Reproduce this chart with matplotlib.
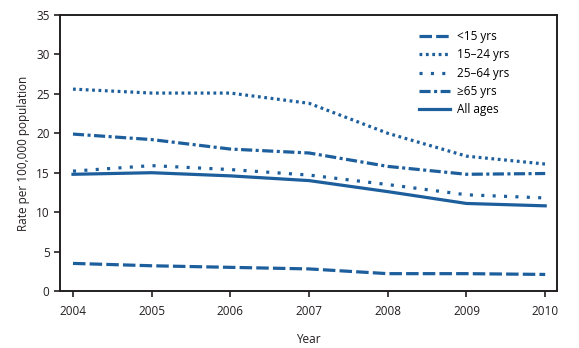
import matplotlib
matplotlib.use("Agg")
import matplotlib.pyplot as plt

plt.rcParams['font.family'] = ['Open Sans', 'DejaVu Sans']
plt.rcParams['lines.scale_dashes'] = False

years = [2004, 2005, 2006, 2007, 2008, 2009, 2010]
under15 = [3.5, 3.2, 3.0, 2.8, 2.2, 2.2, 2.1]
age15_24 = [25.6, 25.1, 25.1, 23.8, 20.0, 17.1, 16.1]
age25_64 = [15.2, 15.9, 15.4, 14.7, 13.5, 12.2, 11.8]
age65 = [19.9, 19.2, 18.0, 17.5, 15.8, 14.8, 14.9]
all_ages = [14.8, 15.0, 14.6, 14.0, 12.6, 11.1, 10.8]

labels = ['<15 yrs', '15–24 yrs', '25–64 yrs', '≥65 yrs', 'All ages']
series = [under15, age15_24, age25_64, age65, all_ages]
styles = [(0, (9, 3)), (0, (2, 2.6)), (0, (2.2, 6)),
          (0, (8, 2.5, 2.2, 2.5)), '-']

color = '#1d5e9c'
fig = plt.figure(figsize=(5.79, 3.48), dpi=100)
ax = fig.add_axes([60/579, 1-291/348, 497/579, 276/348])

for lab, ys, ls in zip(labels, series, styles):
    ax.plot(years, ys, color=color, lw=2.3, ls=ls, label=lab)

ax.set_xlim(2003.835, 2010.15)
ax.set_ylim(0, 35)
ax.set_xticks(years)
ax.set_yticks(range(0, 36, 5))
ax.tick_params(direction='out', length=4, width=1.2, labelsize=8.5, colors='#231f20')
ax.tick_params(axis='x', pad=6)
for s in ax.spines.values():
    s.set_linewidth(1.4)
    s.set_color('#231f20')

ax.set_xlabel('Year', fontsize=8.5, labelpad=11, color='#231f20')
ax.set_ylabel('Rate per 100,000 population', fontsize=8.5, labelpad=4, color='#231f20')

leg = ax.legend(loc='upper left', bbox_to_anchor=(0.722, 0.945), frameon=False,
                fontsize=8.5, handlelength=2.6, labelspacing=0.45, handletextpad=0.6,
                borderpad=0, borderaxespad=0)

fig.savefig('out.png', dpi=100)
